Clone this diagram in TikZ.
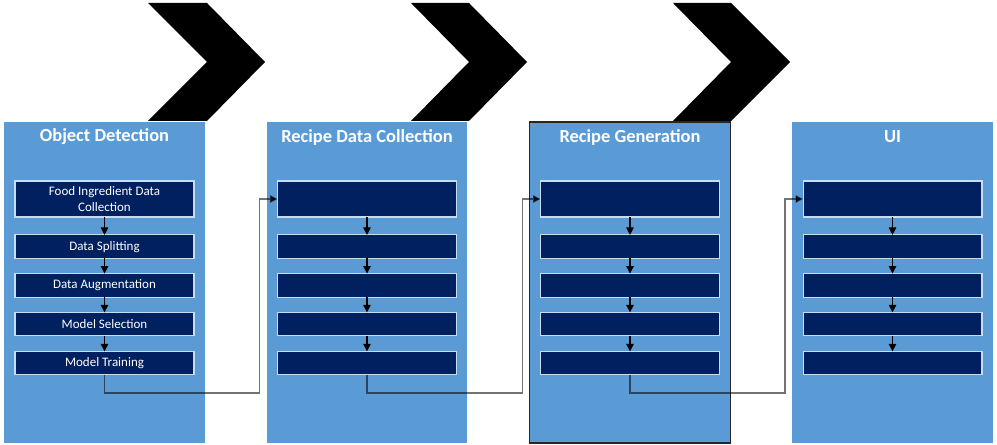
\documentclass[tikz,border=0pt]{standalone}
\usepackage{fontspec}
\setmainfont{Carlito}
\usetikzlibrary{arrows.meta}
\definecolor{panelblue}{HTML}{5B9BD5}
\definecolor{stepnavy}{HTML}{002060}
\definecolor{stepedge}{HTML}{C9DDF2}
\begin{document}
\begin{tikzpicture}[x=0.02cm, y=-0.02cm,
    panel/.style={rectangle, fill=panelblue, minimum width=4.02cm, minimum height=6.42cm, inner sep=0pt, outer sep=0pt},
    title/.style={text=white, font=\fontsize{10.5}{12}\selectfont\bfseries},
    stage/.style={rectangle, fill=stepnavy, draw=stepedge, line width=0.6pt, minimum width=3.58cm, minimum height=0.47cm, inner sep=0pt, outer sep=0pt, text=white, align=center, font=\fontsize{7.4}{9}\selectfont},
    tall/.style={minimum height=0.72cm},
    flow/.style={-{Triangle[length=1.5mm, width=1.5mm]}, line width=0.6pt},
    link/.style={-{Triangle[length=1.5mm, width=1.5mm]}, draw=black, draw opacity=0.55, fill opacity=0.9, line width=0.75pt}]

    \useasboundingbox (0,0) rectangle (997,445);

    % Chevrons
    \fill (148,3) -- (207,3) -- (265,62) -- (207,121) -- (148,121) -- (207,62) -- cycle;
    \fill (411,3) -- (469,3) -- (527,62) -- (469,121) -- (411,121) -- (469,62) -- cycle;
    \fill (673,3) -- (731,3) -- (790,62) -- (731,121) -- (673,121) -- (731,62) -- cycle;

    % Panels
    \node[panel] (od) at (104.5,282.5) {};
    \node[panel] (rd) at (367,282.5) {};
    \node[panel, draw=black!85, line width=0.7pt] (rg) at (630,282.5) {};
    \node[panel] (ui) at (892.5,282.5) {};

    % Titles
    \node[title] (odt) at (104.5,137) {Object Detection};
    \node[title] (rdt) at (367,137) {Recipe Data Collection};
    \node[title] (rgt) at (630,137) {Recipe Generation};
    \node[title] (uit) at (892.5,137) {UI};

    % Turning points of the links
    \coordinate (t1) at (259.5,393);
    \coordinate (t2) at (522.5,393);
    \coordinate (t3) at (785,393);

    % Object Detection steps
    \node[stage, tall] (od1) at (104.5,199) {Food Ingredient Data\\Collection};
    \node[stage] (od2) at (104.5,246.7) {Data Splitting};
    \node[stage] (od3) at (104.5,285.3) {Data Augmentation};
    \node[stage] (od4) at (104.5,324.1) {Model Selection};
    \node[stage] (od5) at (104.5,363.1) {Model Training};

    % Recipe Data Collection steps
    \node[stage, tall] (rd1) at (367,199) {};
    \node[stage] (rd2) at (367,246.7) {};
    \node[stage] (rd3) at (367,285.3) {};
    \node[stage] (rd4) at (367,324.1) {};
    \node[stage] (rd5) at (367,363.1) {};

    % Recipe Generation steps
    \node[stage, tall] (rg1) at (630,199) {};
    \node[stage] (rg2) at (630,246.7) {};
    \node[stage] (rg3) at (630,285.3) {};
    \node[stage] (rg4) at (630,324.1) {};
    \node[stage] (rg5) at (630,363.1) {};

    % UI steps
    \node[stage, tall] (ui1) at (892.5,199) {};
    \node[stage] (ui2) at (892.5,246.7) {};
    \node[stage] (ui3) at (892.5,285.3) {};
    \node[stage] (ui4) at (892.5,324.1) {};
    \node[stage] (ui5) at (892.5,363.1) {};

    % Arrows inside the panels
    \draw[flow] (od1) -- (od2);
    \draw[flow] (od2) -- (od3);
    \draw[flow] (od3) -- (od4);
    \draw[flow] (od4) -- (od5);
    \draw[flow] (rd1) -- (rd2);
    \draw[flow] (rd2) -- (rd3);
    \draw[flow] (rd3) -- (rd4);
    \draw[flow] (rd4) -- (rd5);
    \draw[flow] (rg1) -- (rg2);
    \draw[flow] (rg2) -- (rg3);
    \draw[flow] (rg3) -- (rg4);
    \draw[flow] (rg4) -- (rg5);
    \draw[flow] (ui1) -- (ui2);
    \draw[flow] (ui2) -- (ui3);
    \draw[flow] (ui3) -- (ui4);
    \draw[flow] (ui4) -- (ui5);

    % Links between the panels
    \draw[link] (od5.south) |- (t1) |- (rd1.west);
    \draw[link] (rd5.south) |- (t2) |- (rg1.west);
    \draw[link] (rg5.south) |- (t3) |- (ui1.west);

\end{tikzpicture}
\end{document}
